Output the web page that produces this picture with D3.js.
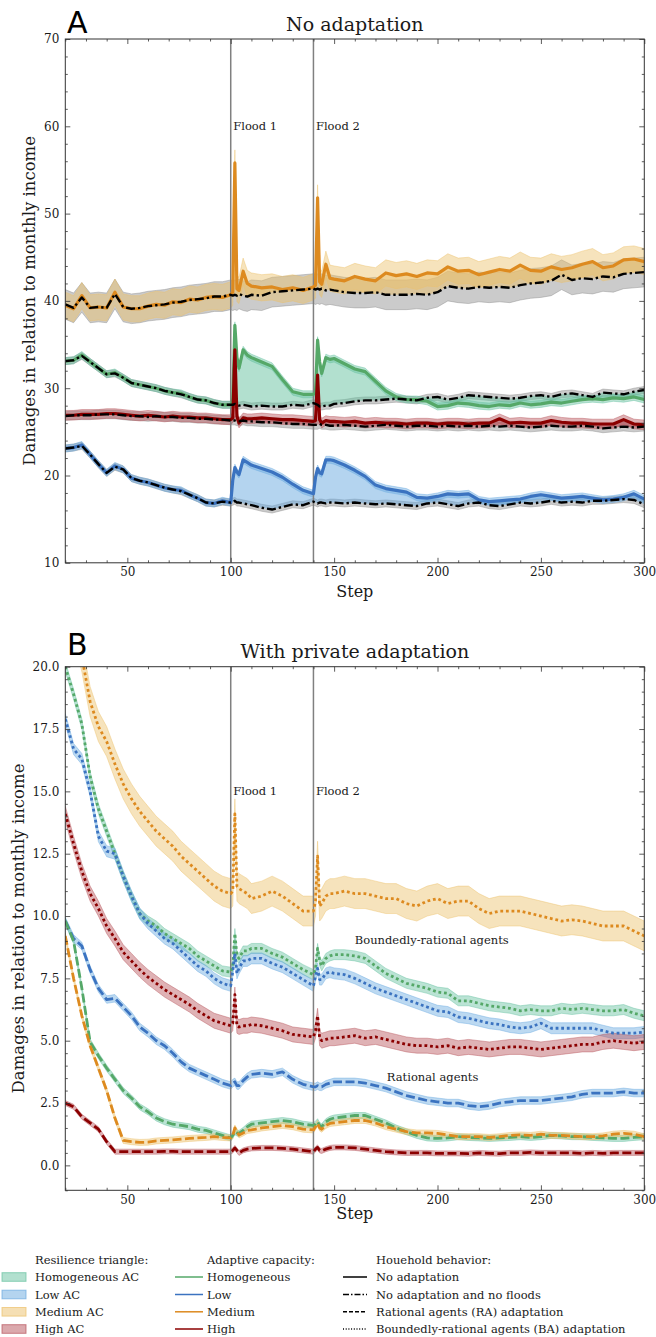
<!DOCTYPE html>
<html>
<head>
<meta charset="utf-8">
<script src="https://cdn.jsdelivr.net/npm/d3@7"></script>
<style>
  body { margin: 0; background: #fff; }
  text { font-family: "DejaVu Serif"; fill: #1a1a1a; }
  text.panel { font-family: "DejaVu Sans"; fill: #000; }
</style>
</head>
<body>
<div id="chart"></div>
<script>
// model steps (same grid for every series)
const steps = [20,24,28,32,36,40,44,48,52,56,60,64,68,72,76,80,84,88,92,96,100,
  101,102,103,104,106,108,110,115,120,125,130,135,140,
  141,142,143,144,146,148,
  150,155,160,165,170,175,180,185,190,195,200,205,210,215,220,225,230,235,240,245,250,255,260,265,270,275,280,285,290,295,300];

// ---- panel A: no adaptation (with floods) and no adaptation + no floods (NF)
const aMedium = [39.5,39.1,40.6,39.2,39.3,39.2,41.0,39.3,39.1,39.1,39.4,39.6,39.5,39.9,39.8,40.2,40.1,40.4,40.5,40.4,40.7,
  41.0,55.8,41.4,41.2,43.4,42.0,41.7,41.5,41.6,41.3,41.5,41.2,41.6,
  41.8,51.8,42.2,41.9,44.2,42.6,
  42.5,42.3,42.8,42.5,42.3,43.2,42.9,43.1,42.8,43.2,43.1,43.9,43.4,43.5,43.0,43.3,43.6,43.4,44.1,43.5,43.4,43.9,43.6,43.8,44.2,44.5,43.8,44.0,44.7,44.8,44.5];
const aMediumNF = [39.6,39.2,40.4,39.2,39.3,39.2,40.8,39.3,39.1,39.2,39.4,39.5,39.6,39.8,39.9,40.1,40.2,40.3,40.5,40.5,40.7,
  40.6,40.7,40.6,40.8,40.6,40.5,40.7,40.6,41.0,41.1,41.2,41.3,41.4,
  41.3,41.4,41.3,41.4,41.2,41.3,
  41.2,41.0,40.9,40.9,41.0,40.7,40.7,40.7,40.8,40.7,41.0,41.7,41.5,41.4,41.6,41.5,41.6,41.5,41.8,42.0,42.1,42.3,43.0,42.4,42.6,42.5,42.8,42.7,43.1,43.2,43.3];
const aHomog = [33.1,33.2,33.8,33.0,32.3,31.6,31.8,31.2,30.6,30.4,30.2,30.0,29.7,29.5,29.4,29.0,28.7,28.6,28.3,28.1,28.1,
  28.6,37.2,33.5,32.3,34.4,33.8,33.5,33.0,32.5,31.0,29.6,29.3,29.3,
  29.5,35.5,33.0,31.7,33.5,33.3,
  33.4,32.8,32.2,31.9,30.8,29.7,29.0,28.7,28.7,28.5,27.9,28.0,28.3,28.2,28.0,27.9,28.1,28.0,28.3,28.1,28.2,28.4,28.3,28.5,28.7,28.8,28.7,28.9,28.8,29.0,28.7];
const aHomogNF = [33.1,33.2,33.7,33.0,32.3,31.6,31.7,31.2,30.6,30.4,30.2,30.0,29.7,29.5,29.3,29.0,28.7,28.6,28.3,28.1,28.1,
  28.1,28.2,28.1,28.0,28.1,28.0,27.9,28.0,27.9,27.9,28.1,28.0,28.3,
  28.2,28.1,27.9,27.9,28.0,28.0,
  28.2,28.3,28.5,28.6,28.6,28.7,28.8,28.7,28.6,28.9,29.0,28.7,28.9,29.2,29.1,29.0,28.9,28.8,28.9,29.1,29.2,29.0,29.3,29.4,29.2,29.0,29.5,29.4,29.3,29.6,29.8];
const aHigh = [26.9,26.9,27.0,27.0,27.0,27.1,27.1,27.0,26.9,26.8,26.9,26.8,26.7,26.8,26.7,26.7,26.6,26.6,26.5,26.4,26.4,
  26.6,34.4,26.8,26.0,26.6,26.5,26.5,26.6,26.5,26.4,26.4,26.3,26.2,
  26.3,31.5,26.4,26.0,26.3,26.2,
  26.2,26.1,26.2,26.0,26.1,26.0,26.0,25.9,26.0,26.0,25.9,26.0,26.0,25.9,26.0,26.0,26.5,26.0,26.1,26.0,26.0,26.3,26.1,26.0,26.0,25.9,25.9,25.9,26.4,25.9,25.8];
const aHighNF = [26.8,26.9,26.9,26.9,27.0,27.0,27.0,26.9,26.8,26.8,26.7,26.8,26.7,26.7,26.6,26.6,26.5,26.5,26.4,26.4,26.3,
  26.3,26.3,26.2,26.2,26.3,26.2,26.2,26.1,26.1,26.0,25.9,25.9,25.8,
  25.8,25.8,25.9,25.8,25.8,25.7,
  25.7,25.8,25.7,25.6,25.7,25.8,25.7,25.6,25.7,25.7,25.6,25.7,25.6,25.7,25.6,25.7,25.6,25.7,25.6,25.5,25.6,25.7,25.6,25.6,25.7,25.6,25.4,25.5,25.6,25.5,25.6];
const aLow = [23.1,23.2,23.5,22.4,21.3,20.3,21.1,20.7,19.7,19.4,19.2,18.9,18.6,18.4,18.3,17.8,17.4,16.9,16.8,17.1,16.9,
  19.5,20.9,20.4,20.1,21.8,21.5,21.2,20.8,20.4,19.8,19.0,18.3,17.9,
  19.8,20.8,20.3,20.2,21.8,21.8,
  21.7,21.2,20.6,19.9,18.9,18.5,18.3,18.1,17.5,17.4,17.6,17.9,17.8,17.9,17.2,17.0,17.1,17.2,17.3,17.6,17.8,17.6,17.4,17.5,17.6,17.4,17.2,17.3,17.5,17.9,17.3];
const aLowNF = [23.1,23.2,23.4,22.4,21.3,20.3,21.0,20.7,19.7,19.4,19.2,18.9,18.6,18.4,18.2,17.8,17.4,16.9,16.8,17.0,16.9,
  17.0,17.1,16.9,16.9,16.8,16.7,16.6,16.3,16.1,16.4,16.7,16.6,17.0,
  16.9,16.8,16.9,16.9,16.8,16.9,
  16.9,16.8,16.9,16.8,16.7,16.8,16.7,16.6,16.5,16.8,16.9,16.7,16.5,16.8,16.9,16.6,16.5,16.7,16.9,16.8,16.9,17.1,16.9,17.0,16.9,17.1,17.1,17.2,17.3,17.2,16.7];

// ---- panel B: boundedly-rational (BA) and rational (RA) adaptation
const bMediumBA = [23.5,21.7,20.4,18.6,17.6,17.0,16.1,15.3,14.7,14.2,13.8,13.4,13.1,12.8,12.4,12.1,11.8,11.5,11.2,11.0,10.9,
  11.0,14.1,11.2,11.1,11.0,10.9,10.7,10.8,11.0,10.8,10.5,10.2,10.2,
  10.6,12.4,10.4,10.5,10.8,10.9,
  10.9,11.0,10.9,10.9,10.8,10.7,10.7,10.5,10.4,10.6,10.7,10.5,10.6,10.6,10.3,10.1,10.2,10.2,10.2,10.1,10.0,9.9,9.8,9.85,9.8,9.7,9.6,9.6,9.6,9.4,9.2];
const bHomogBA = [20.0,18.9,17.7,15.6,14.3,13.4,12.5,11.6,10.8,10.1,9.8,9.6,9.3,9.1,8.9,8.7,8.4,8.2,8.0,7.8,7.75,
  8.0,9.3,8.4,8.3,8.6,8.6,8.7,8.7,8.5,8.35,8.1,7.85,7.65,
  7.9,8.7,8.2,8.0,8.3,8.4,
  8.45,8.45,8.4,8.3,8.0,7.7,7.5,7.3,7.2,7.1,6.95,6.9,6.6,6.6,6.5,6.4,6.35,6.3,6.2,6.25,6.2,6.2,6.3,6.25,6.3,6.25,6.2,6.2,6.25,6.1,6.0];
const bLowBA = [17.9,16.7,16.3,15.0,13.2,12.6,12.5,11.6,10.8,10.1,9.7,9.4,9.1,8.9,8.6,8.3,8.0,7.8,7.5,7.3,7.2,
  7.8,8.5,7.7,7.9,8.2,8.2,8.3,8.3,8.1,7.95,7.7,7.45,7.2,
  7.6,7.9,7.45,7.45,7.7,7.75,
  7.7,7.65,7.5,7.3,7.1,6.95,6.8,6.65,6.5,6.35,6.2,6.15,5.95,5.9,5.8,5.7,5.65,5.55,5.5,5.55,5.7,5.5,5.5,5.5,5.5,5.5,5.4,5.3,5.3,5.3,5.35];
const bHighBA = [14.1,12.9,11.8,10.9,10.3,9.6,9.1,8.55,8.2,7.85,7.55,7.3,7.05,6.85,6.65,6.45,6.2,6.0,5.8,5.7,5.6,
  5.7,6.85,5.6,5.55,5.6,5.6,5.65,5.6,5.5,5.4,5.25,5.2,5.15,
  5.4,6.0,5.1,5.0,5.05,5.1,
  5.1,5.15,5.2,5.1,5.15,5.05,4.95,4.85,4.8,4.8,4.75,4.8,4.7,4.75,4.7,4.65,4.7,4.75,4.75,4.7,4.65,4.7,4.75,4.8,4.85,4.85,4.95,5.0,4.95,4.9,4.95];
const bLowRA = [9.8,9.1,8.8,7.85,7.1,6.65,6.7,6.35,6.0,5.55,5.3,5.0,4.8,4.5,4.15,3.9,3.75,3.6,3.45,3.3,3.2,
  3.3,3.35,3.2,3.2,3.4,3.55,3.65,3.7,3.65,3.75,3.45,3.25,3.15,
  3.15,3.2,3.15,3.15,3.25,3.3,
  3.35,3.35,3.35,3.3,3.2,3.1,2.95,2.8,2.7,2.6,2.55,2.5,2.5,2.4,2.35,2.4,2.5,2.55,2.6,2.6,2.6,2.65,2.7,2.75,2.85,2.9,2.9,2.9,2.95,2.9,2.9];
const bHomogRA = [9.8,9.0,7.1,4.95,4.4,3.9,3.45,3.0,2.7,2.35,2.15,1.9,1.75,1.65,1.6,1.55,1.45,1.4,1.3,1.2,1.1,
  1.2,1.35,1.3,1.28,1.4,1.55,1.65,1.7,1.75,1.8,1.75,1.65,1.6,
  1.65,1.75,1.6,1.55,1.75,1.85,
  1.9,1.95,2.0,2.0,1.85,1.7,1.5,1.35,1.2,1.1,1.08,1.1,1.15,1.12,1.1,1.08,1.1,1.12,1.15,1.12,1.15,1.2,1.18,1.15,1.15,1.12,1.1,1.08,1.08,1.12,1.15];
const bMediumRA = [9.2,7.5,6.0,4.8,3.9,3.0,1.9,1.0,0.95,0.92,0.93,0.98,1.0,1.02,1.05,1.08,1.1,1.12,1.15,1.12,1.1,
  1.2,1.5,1.35,1.22,1.3,1.4,1.42,1.5,1.55,1.6,1.55,1.45,1.42,
  1.55,1.68,1.5,1.45,1.6,1.68,
  1.7,1.75,1.8,1.8,1.7,1.55,1.45,1.35,1.3,1.3,1.28,1.22,1.15,1.15,1.15,1.12,1.15,1.2,1.22,1.2,1.25,1.2,1.2,1.18,1.15,1.15,1.18,1.25,1.28,1.25,1.15];
const bHighRA = [2.5,2.35,1.95,1.7,1.45,0.95,0.55,0.55,0.55,0.55,0.55,0.55,0.56,0.56,0.55,0.55,0.55,0.55,0.55,0.55,0.55,
  0.6,0.7,0.6,0.5,0.6,0.65,0.68,0.7,0.7,0.68,0.65,0.6,0.55,
  0.65,0.72,0.6,0.58,0.65,0.7,
  0.72,0.72,0.7,0.65,0.6,0.55,0.52,0.5,0.5,0.5,0.48,0.48,0.48,0.47,0.5,0.48,0.47,0.5,0.5,0.52,0.5,0.5,0.5,0.5,0.48,0.5,0.48,0.5,0.5,0.5,0.5];

// spread (half width of the uncertainty band), same order as the series lists below
const spreadA = [1.5, 1.7, 0.4, 0.4, 0.55, 0.5, 0.4, 0.4];
const spreadB = [0.6, 0.2, 0.22, 0.3, 0.15, 0.12, 0.12, 0.1];

const floods = [100, 140];
const groups = ["Homogeneous", "Low", "Medium", "High"];
const triangleLabels = ["Homogeneous AC", "Low AC", "Medium AC", "High AC"];
const behaviours = ["No adaptation", "No adaptation and no floods", "Rational agents (RA) adaptation", "Boundedly-rational agents (BA) adaptation"];

const LINE = { Homogeneous: "#55a868", Low: "#3b73c0", Medium: "#dd8a1f", High: "#8b0000" };
const FILL = { Homogeneous: "#66c2a0", Low: "#6aaae0", Medium: "#ecc06a", High: "#b8545c" };
const DASH = { solid: null, dashdot: "9,3,2.4,3", dashed: "9,3.5", dotted: "2.8,2.8" };

const svg = d3.select("#chart").append("svg").attr("width", 656).attr("height", 1337);

const x = d3.scaleLinear().domain([20, 300]).range([65.3, 644.3]);
const yA = d3.scaleLinear().domain([10, 70]).range([562.8, 39]);
const yB = d3.scaleLinear().domain([-1, 20]).range([1190.3, 666.7]);

function panel(id, y) {
  const [yb, yt] = y.range();
  svg.append("clipPath").attr("id", id).append("rect")
    .attr("x", x(20)).attr("y", yt).attr("width", x(300) - x(20)).attr("height", yb - yt);
  return svg.append("g").attr("clip-path", `url(#${id})`);
}

function band(g, y, vals, s, color, op) {
  const area = d3.area().x((d, i) => x(steps[i])).y0(d => y(d - s)).y1(d => y(d + s));
  g.append("path").datum(vals).attr("d", area)
    .attr("fill", color).attr("fill-opacity", op)
    .attr("stroke", color).attr("stroke-opacity", op + 0.1).attr("stroke-width", 0.8);
}

function line(g, y, vals, color, dash, w) {
  const ln = d3.line().x((d, i) => x(steps[i])).y(d => y(d));
  g.append("path").datum(vals).attr("d", ln)
    .attr("fill", "none").attr("stroke", color).attr("stroke-width", w)
    .attr("stroke-dasharray", dash).attr("stroke-linejoin", "round");
}

function floodLines(g, y, labelY) {
  const [yb, yt] = y.range();
  floods.forEach((f, i) => {
    g.append("line").attr("x1", x(f)).attr("x2", x(f)).attr("y1", yt).attr("y2", yb)
      .attr("stroke", "#808080").attr("stroke-width", 1.5);
    svg.append("text").attr("x", x(f) + 2.5).attr("y", y(labelY) + 4)
      .attr("font-size", 11.5).text("Flood " + (i + 1));
  });
}

function axes(y, yMajor, yMinor, fmt, labelX) {
  const [yb, yt] = y.range();
  const xMajor = d3.range(50, 301, 50);
  const xMinor = d3.range(20, 301, 10).filter(v => v % 50);
  const clean = g => {
    g.select(".domain").remove();
    g.attr("color", "#333").attr("font-family", null);
    g.selectAll(".tick line").attr("stroke-width", 0.8);
    g.selectAll(".tick text").attr("font-size", 12);
  };

  svg.append("g").attr("transform", `translate(0,${yb})`)
    .call(d3.axisBottom(x).tickValues(xMajor).tickSize(-5).tickPadding(5).tickFormat(d3.format("d"))).call(clean);
  svg.append("g").attr("transform", `translate(0,${yb})`)
    .call(d3.axisBottom(x).tickValues(xMinor).tickSize(-2.5).tickFormat("")).call(clean);
  svg.append("g").attr("transform", `translate(0,${yt})`)
    .call(d3.axisTop(x).tickValues(xMajor).tickSize(-5).tickFormat("")).call(clean);
  svg.append("g").attr("transform", `translate(0,${yt})`)
    .call(d3.axisTop(x).tickValues(xMinor).tickSize(-2.5).tickFormat("")).call(clean);

  svg.append("g").attr("transform", `translate(${x(20)},0)`)
    .call(d3.axisLeft(y).tickValues(yMajor).tickSize(-5).tickPadding(6).tickFormat(fmt)).call(clean);
  svg.append("g").attr("transform", `translate(${x(20)},0)`)
    .call(d3.axisLeft(y).tickValues(yMinor).tickSize(-2.5).tickFormat("")).call(clean);
  svg.append("g").attr("transform", `translate(${x(300)},0)`)
    .call(d3.axisRight(y).tickValues(yMajor).tickSize(-5).tickFormat("")).call(clean);
  svg.append("g").attr("transform", `translate(${x(300)},0)`)
    .call(d3.axisRight(y).tickValues(yMinor).tickSize(-2.5).tickFormat("")).call(clean);

  svg.append("rect").attr("x", x(20)).attr("y", yt).attr("width", x(300) - x(20)).attr("height", yb - yt)
    .attr("fill", "none").attr("stroke", "#333").attr("stroke-width", 1);

  svg.append("text").attr("transform", `translate(${labelX},${(yb + yt) / 2}) rotate(-90)`)
    .attr("text-anchor", "middle").attr("font-size", 16.5)
    .text("Damages in relation to monthly income");
}

// ================= Panel A
const seriesA = [
  { g: "Medium", v: aMedium, nf: aMediumNF },
  { g: "Homogeneous", v: aHomog, nf: aHomogNF },
  { g: "High", v: aHigh, nf: aHighNF },
  { g: "Low", v: aLow, nf: aLowNF }
];
const pA = panel("clipA", yA);
const i100 = steps.indexOf(100);

seriesA.forEach((s, k) => band(pA, yA, s.nf, spreadA[k * 2 + 1], "#8c8c8c", 0.45));
seriesA.forEach((s, k) => band(pA, yA, s.v, spreadA[k * 2], FILL[s.g], 0.45));
seriesA.forEach(s => {
  const tri = d3.area().x(d => x(steps[d])).y0(d => yA(s.nf[d])).y1(d => yA(s.v[d]));
  pA.append("path").datum(d3.range(i100, steps.length)).attr("d", tri)
    .attr("fill", FILL[s.g]).attr("fill-opacity", 0.5);
});
floodLines(pA, yA, 60);
seriesA.forEach(s => line(pA, yA, s.v, LINE[s.g], DASH.solid, 3.2));
seriesA.forEach(s => line(pA, yA, s.nf, "#000", DASH.dashdot, 2.4));

axes(yA, d3.range(10, 71, 10), d3.range(10, 71, 2).filter(v => v % 10), d3.format("d"), 35);

svg.append("text").attr("class", "panel").attr("x", 67).attr("y", 33).attr("font-size", 30).text("A");
svg.append("text").attr("x", (x(20) + x(300)) / 2).attr("y", 31).attr("text-anchor", "middle")
  .attr("font-size", 19).text("No adaptation");
svg.append("text").attr("x", (x(20) + x(300)) / 2).attr("y", 597).attr("text-anchor", "middle")
  .attr("font-size", 16).text("Step");

// ================= Panel B
const seriesB = [
  { g: "Medium", v: bMediumBA, d: DASH.dotted },
  { g: "Homogeneous", v: bHomogBA, d: DASH.dotted },
  { g: "Low", v: bLowBA, d: DASH.dotted },
  { g: "High", v: bHighBA, d: DASH.dotted },
  { g: "Low", v: bLowRA, d: DASH.dashed },
  { g: "Homogeneous", v: bHomogRA, d: DASH.dashed },
  { g: "Medium", v: bMediumRA, d: DASH.dashed },
  { g: "High", v: bHighRA, d: DASH.dashed }
];
const pB = panel("clipB", yB);
seriesB.forEach((s, k) => band(pB, yB, s.v, spreadB[k], FILL[s.g], 0.45));
floodLines(pB, yB, 15);
seriesB.forEach(s => line(pB, yB, s.v, LINE[s.g], s.d, 2.8));

axes(yB, d3.range(0, 20.01, 2.5), d3.range(-1, 20.01, 0.5).filter(v => v % 2.5 !== 0), d3.format(".1f"), 24);

svg.append("text").attr("class", "panel").attr("x", 67).attr("y", 655).attr("font-size", 30).text("B");
svg.append("text").attr("x", (x(20) + x(300)) / 2).attr("y", 658).attr("text-anchor", "middle")
  .attr("font-size", 19).text("With private adaptation");
svg.append("text").attr("x", (x(20) + x(300)) / 2).attr("y", 1219).attr("text-anchor", "middle")
  .attr("font-size", 16).text("Step");
svg.append("text").attr("x", x(160)).attr("y", yB(8.87)).attr("font-size", 11.5).text("Boundedly-rational agents");
svg.append("text").attr("x", x(175.5)).attr("y", yB(3.39)).attr("font-size", 11.5).text("Rational agents");

// ================= Legend
const lg = svg.append("g");
const rowY = [1277, 1294.5, 1311.8, 1329];
const headY = 1260;
lg.append("text").attr("x", 35).attr("y", headY + 4).text("Resilience triangle:");
lg.append("text").attr("x", 207).attr("y", headY + 4).text("Adaptive capacity:");
lg.append("text").attr("x", 376).attr("y", headY + 4).text("Houehold behavior:");
groups.forEach((gname, i) => {
  lg.append("rect").attr("x", 2).attr("y", rowY[i] - 4.3).attr("width", 24).attr("height", 8.6)
    .attr("fill", FILL[gname]).attr("fill-opacity", 0.5)
    .attr("stroke", FILL[gname]).attr("stroke-opacity", 0.7).attr("stroke-width", 1);
  lg.append("text").attr("x", 35).attr("y", rowY[i] + 4).text(triangleLabels[i]);
  lg.append("line").attr("x1", 175).attr("x2", 203).attr("y1", rowY[i]).attr("y2", rowY[i])
    .attr("stroke", LINE[gname]).attr("stroke-width", 1.5);
  lg.append("text").attr("x", 207).attr("y", rowY[i] + 4).text(gname);
});
const legDash = [null, "6,2,1.5,2", "4,2", "1,1.7"];
behaviours.forEach((b, i) => {
  lg.append("line").attr("x1", 343).attr("x2", 367).attr("y1", rowY[i]).attr("y2", rowY[i])
    .attr("stroke", "#000").attr("stroke-width", 1.5).attr("stroke-dasharray", legDash[i]);
  lg.append("text").attr("x", 376).attr("y", rowY[i] + 4).text(b);
});
lg.selectAll("text").attr("font-size", 11.5);
</script>
</body>
</html>
